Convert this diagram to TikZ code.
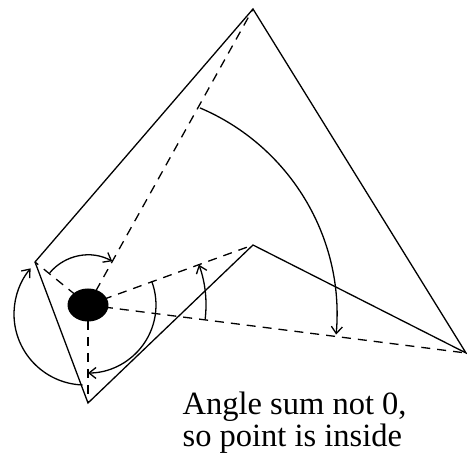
\documentclass[tikz,border=0pt]{standalone}
\usepackage{fontspec}
\setmainfont{Liberation Serif}
\usetikzlibrary{arrows.meta}

\begin{document}
\begin{tikzpicture}[x=1pt, y=1pt, line width=1.3pt,
    ray/.style={dash pattern=on 9pt off 7pt},
    turn/.style={->},
    >={Straight Barb[length=7pt,width=11pt]}]
  \useasboundingbox (0,0) rectangle (467,466);

  % Corners and test point
  \coordinate (apex) at (253,457);
  \coordinate (tip) at (466,113);
  \coordinate (notch) at (253,221);
  \coordinate (foot) at (88,63);
  \coordinate (heel) at (35,204);
  \coordinate (p) at (88,161);

  % Polygon
  \draw (heel) -- (apex) -- (tip) -- (notch) -- (foot) -- cycle;

  % Rays from the point
  \foreach \v in {apex,tip,notch,foot,heel}
    \draw[ray] (p) -- (\v);

  % Turning angles
  \draw[turn] (p) ++(140:50) arc[start angle=140, end angle=61, radius=50];
  \draw[turn] (112,151) ++(67:225) arc[start angle=67, end angle=-5, radius=225];
  \draw[turn] (p) ++(-7:118) arc[start angle=-7, end angle=20, radius=118];
  \draw[turn] (p) ++(20.6:68) arc[start angle=20.6, end angle=-90, radius=68];
  \draw[turn] (85,152) ++(-92:71) arc[start angle=-92, end angle=-220, radius=71];

  % Point
  \fill (p) ellipse[x radius=20.5, y radius=16.5];

  % Note
  \node[anchor=base west, align=left, inner sep=0pt,
        font=\fontsize{32.5}{32}\selectfont] (note) at (182,19)
    {Angle sum not 0,\\so point is inside};
\end{tikzpicture}
\end{document}
